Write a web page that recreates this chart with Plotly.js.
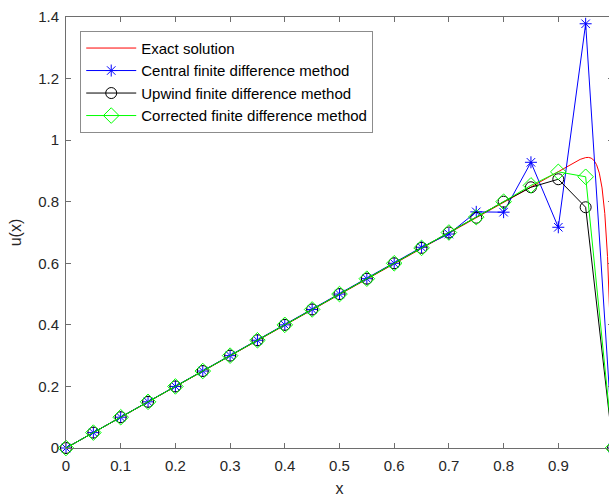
<!DOCTYPE html>
<html>
<head>
<meta charset="utf-8">
<script src="https://cdn.plot.ly/plotly-3.0.1.min.js"></script>
<style>
html,body{margin:0;padding:0;overflow:hidden;background:#fff;}
#chart{width:620px;height:497px;}
</style>
</head>
<body>
<div id="chart"></div>
<script>
// Grid nodes
var xNodes = [0,0.05,0.1,0.15,0.2,0.25,0.3,0.35,0.4,0.45,0.5,0.55,0.6,0.65,0.7,0.75,0.8,0.85,0.9,0.95,1];
// Series values
var centralVals   = [0,0.05,0.1,0.15,0.2,0.25,0.3,0.35,0.4,0.45,0.5,0.55,0.6,0.652,0.695,0.767,0.766,0.928,0.717,1.378,0];
var upwindVals    = [0,0.05,0.1,0.15,0.2,0.25,0.3,0.35,0.4,0.45,0.5,0.55,0.6,0.65,0.70,0.748,0.800,0.847,0.873,0.782,0];
var correctedVals = [0,0.05,0.1,0.15,0.2,0.25,0.3,0.35,0.4,0.45,0.5,0.55,0.6,0.65,0.70,0.75,0.80,0.853,0.897,0.881,0];
// Exact solution curve
var exactX = [0,0.1,0.2,0.3,0.4,0.5,0.6,0.7,0.8,0.85,0.9,0.92,0.93,0.94,0.95,0.955,0.96,0.965,0.97,0.975,0.98,0.985,0.99,0.9925,0.995,0.9975,1];
var exactY = [0,0.1,0.2,0.3,0.4,0.5,0.6,0.7,0.8,0.85,0.8999,0.9197,0.9291,0.9375,0.9433,0.9439,0.9417,0.9348,0.9202,0.8929,0.8447,0.7619,0.6221,0.5201,0.3885,0.2187,0];
// Tick labels
var xTicks = [0,0.1,0.2,0.3,0.4,0.5,0.6,0.7,0.8,0.9];
var xTickText = ['0','0.1','0.2','0.3','0.4','0.5','0.6','0.7','0.8','0.9'];
var yTicks = [0,0.2,0.4,0.6,0.8,1,1.2,1.4];
var yTickText = ['0','0.2','0.4','0.6','0.8','1','1.2','1.4'];
var names = ['Exact solution','Central finite difference method','Upwind finite difference method','Corrected finite difference method'];

var traces = [
  {x: exactX, y: exactY, mode: 'lines', name: names[0], line: {color: '#ff0000', width: 1}},
  {x: xNodes, y: centralVals, mode: 'lines+markers', name: names[1], cliponaxis: false, line: {color: '#0000ff', width: 1},
   marker: {symbol: 'asterisk-open', size: 10, color: '#0000ff', line: {color: '#0000ff', width: 1}}},
  {x: xNodes, y: upwindVals, mode: 'lines+markers', name: names[2], cliponaxis: false, line: {color: '#000000', width: 1},
   marker: {symbol: 'circle-open', size: 11, color: '#000000', line: {color: '#000000', width: 1}}},
  {x: xNodes, y: correctedVals, mode: 'lines+markers', name: names[3], cliponaxis: false, line: {color: '#00ff00', width: 1},
   marker: {symbol: 'diamond-open', size: 12, color: '#00ff00', line: {color: '#00ff00', width: 1}}}
];

var axisCommon = {
  showgrid: false, zeroline: false, showline: true, linecolor: '#6e6e6e', linewidth: 1,
  mirror: 'ticks', ticks: 'inside', ticklen: 5, tickcolor: '#6e6e6e', tickwidth: 1,
  tickfont: {family: 'Liberation Sans, Arial, sans-serif', size: 15, color: '#262626'}
};

var layout = {
  width: 620, height: 497,
  margin: {l: 66, r: 7, t: 17, b: 49},
  paper_bgcolor: '#ffffff', plot_bgcolor: '#ffffff',
  showlegend: true,
  xaxis: Object.assign({}, axisCommon, {
    range: [0, 1], tickmode: 'array', tickvals: xTicks, ticktext: xTickText, ticklabelstandoff: 4,
    title: {text: 'x', standoff: 11, font: {family: 'Liberation Sans, Arial, sans-serif', size: 16, color: '#262626'}}
  }),
  yaxis: Object.assign({}, axisCommon, {
    range: [0, 1.4], tickmode: 'array', tickvals: yTicks, ticktext: yTickText, ticklabelstandoff: 3,
    title: {text: 'u(x)', standoff: 12, font: {family: 'Liberation Sans, Arial, sans-serif', size: 16, color: '#262626'}}
  }),
  legend: {
    x: 0.026, y: 0.968, xanchor: 'left', yanchor: 'top', xref: 'paper', yref: 'paper',
    bgcolor: '#ffffff', bordercolor: '#8c8c8c', borderwidth: 1,
    itemwidth: 50, tracegroupgap: 0,
    font: {family: 'Liberation Sans, Arial, sans-serif', size: 15, color: '#000000'}
  }
};

Plotly.newPlot('chart', traces, layout, {displayModeBar: false, staticPlot: true});
</script>
</body>
</html>
